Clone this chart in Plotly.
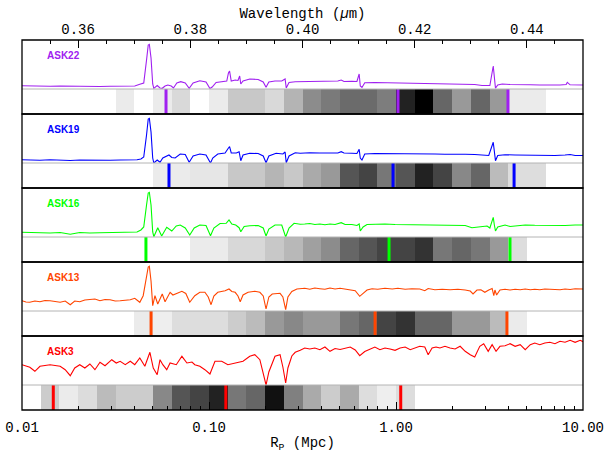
import numpy as np
import plotly.graph_objects as go

# ---------------- data ----------------
names = ["ASK22", "ASK19", "ASK16", "ASK13", "ASK3"]
colors = ["#a020f0", "#0000ff", "#00ff00", "#ff4500", "#ff0000"]

# rest-frame wavelength (Angstrom) and relative flux (arbitrary units) of each stacked spectrum
wave_ask22 = [3500, 3514, 3532, 3550, 3568, 3586, 3603, 3621, 3639, 3657, 3675, 3693, 3701, 3710, 3717, 3722, 3725,
              3727, 3730, 3733, 3735, 3741, 3746, 3750, 3755, 3760, 3766, 3770, 3776, 3783, 3791, 3798, 3805, 3817,
              3828, 3835, 3839, 3846, 3856, 3865, 3868, 3870, 3873, 3880, 3885, 3888, 3890, 3894, 3906, 3921, 3930,
              3935, 3940, 3951, 3963, 3969, 3971, 3976, 3987, 3996, 4013, 4031, 4049, 4063, 4069, 4074, 4088, 4097,
              4101, 4103, 4106, 4111, 4129, 4147, 4165, 4183, 4201, 4218, 4236, 4254, 4272, 4290, 4307, 4320, 4331,
              4334, 4340, 4342, 4344, 4348, 4356, 4370, 4388, 4406, 4423, 4441, 4459, 4470, 4472, 4477, 4486, 4500]
flux_ask22 = [0.33, 0.30, 0.32, 0.28, 0.30, 0.27, 0.30, 0.27, 0.25, 0.27, 0.26, 0.27, 0.30, 0.47, 0.60, 2.9, 4.4,
              4.47, 3.1, 0.5, 0.07, 0.35, 0.10, 0.07, 0.30, 0.40, 0.30, 0.10, 0.60, 0.73, 0.60, 0.07, 0.60, 0.83,
              0.70, 0.05, 0.20, 0.65, 0.73, 0.80, 1.6, 1.8, 0.80, 0.90, 0.85, 1.3, 0.50, 0.80, 1.0, 0.95, 0.70,
              0.17, 0.70, 0.80, 0.80, 1.0, 0.10, 0.65, 0.73, 0.73, 0.77, 0.80, 0.77, 0.80, 0.90, 0.75, 0.77, 0.75,
              1.5, 0.30, 0.15, 0.63, 0.65, 0.63, 0.60, 0.58, 0.60, 0.55, 0.57, 0.52, 0.50, 0.50, 0.45, 0.35, 0.30,
              0.35, 2.3, 0.9, 0.07, 0.40, 0.50, 0.45, 0.40, 0.42, 0.40, 0.38, 0.40, 0.45, 0.67, 0.42, 0.40, 0.40]

wave_ask19 = [3500, 3514, 3532, 3550, 3568, 3586, 3603, 3621, 3639, 3657, 3675, 3693, 3705, 3712, 3717, 3722, 3725,
              3727, 3730, 3733, 3735, 3741, 3746, 3751, 3757, 3762, 3767, 3773, 3782, 3791, 3798, 3805, 3817, 3828,
              3836, 3840, 3849, 3862, 3868, 3870, 3873, 3882, 3887, 3890, 3894, 3906, 3921, 3930, 3935, 3940, 3953,
              3965, 3969, 3971, 3976, 3987, 3996, 4013, 4031, 4049, 4063, 4069, 4074, 4088, 4097, 4101, 4103, 4106,
              4111, 4129, 4147, 4165, 4183, 4201, 4218, 4236, 4254, 4272, 4290, 4307, 4320, 4332, 4340, 4342, 4344,
              4348, 4361, 4379, 4397, 4414, 4432, 4450, 4468, 4477, 4486, 4500]
flux_ask19 = [0.33, 0.30, 0.28, 0.32, 0.27, 0.25, 0.30, 0.27, 0.30, 0.27, 0.30, 0.28, 0.33, 0.40, 0.60, 2.8, 4.4,
              4.47, 3.1, 0.5, 0.0, 0.30, 0.07, 0.50, 0.70, 0.80, 0.55, 0.50, 0.90, 0.85, 0.07, 0.70, 0.90, 0.80,
              0.0, 0.50, 0.90, 1.0, 1.5, 1.63, 1.0, 1.0, 1.13, 0.23, 0.80, 0.97, 0.95, 0.70, 0.03, 0.70, 0.97,
              0.90, 1.1, 0.03, 0.70, 1.03, 0.97, 1.03, 1.0, 1.03, 1.0, 1.13, 1.0, 0.97, 0.95, 1.37, 0.50, 0.30,
              0.90, 0.95, 0.95, 0.93, 0.90, 0.93, 0.90, 0.90, 0.87, 0.90, 0.87, 0.85, 0.80, 0.75, 2.07, 1.1, 0.23,
              0.75, 0.83, 0.80, 0.77, 0.80, 0.77, 0.75, 0.80, 0.85, 0.75, 0.75]

wave_ask16 = [3500, 3514, 3532, 3550, 3568, 3586, 3603, 3621, 3639, 3657, 3675, 3693, 3705, 3712, 3717, 3722, 3725,
              3727, 3730, 3733, 3735, 3742, 3749, 3758, 3767, 3775, 3782, 3791, 3799, 3807, 3817, 3828, 3836, 3842,
              3853, 3864, 3869, 3874, 3881, 3887, 3890, 3896, 3906, 3921, 3930, 3935, 3940, 3951, 3963, 3970, 3976,
              3985, 3996, 4004, 4013, 4022, 4031, 4040, 4049, 4058, 4069, 4076, 4088, 4097, 4101, 4103, 4108, 4115,
              4129, 4147, 4165, 4183, 4201, 4218, 4236, 4254, 4272, 4290, 4302, 4316, 4329, 4334, 4340, 4342, 4344,
              4348, 4361, 4370, 4384, 4397, 4414, 4432, 4450, 4468, 4486, 4500]
flux_ask16 = [0.47, 0.43, 0.45, 0.40, 0.45, 0.27, 0.45, 0.40, 0.43, 0.45, 0.40, 0.43, 0.50, 0.70, 1.0, 3.2, 4.4,
              4.47, 3.2, 0.5, 0.03, 0.93, 0.10, 0.97, 0.60, 1.1, 1.2, 0.90, 0.20, 0.90, 1.2, 1.15, 0.13, 0.90,
              1.35, 1.37, 1.7, 1.3, 1.2, 0.93, 0.53, 1.05, 1.13, 1.15, 0.90, 0.10, 0.80, 1.2, 1.2, 0.0, 0.90,
              1.37, 1.27, 1.3, 1.35, 1.25, 1.3, 1.23, 1.3, 1.25, 1.43, 1.25, 1.25, 1.15, 1.3, 0.60, 1.0, 1.25,
              1.27, 1.3, 1.25, 1.23, 1.27, 1.2, 1.23, 1.2, 1.17, 1.15, 0.93, 1.0, 1.1, 0.90, 1.97, 1.2, 0.60,
              1.0, 1.2, 1.05, 1.15, 1.2, 1.17, 1.15, 1.2, 1.15, 1.2, 1.2]

wave_ask13 = [3500, 3507, 3514, 3523, 3532, 3541, 3550, 3559, 3568, 3577, 3586, 3594, 3603, 3612, 3621, 3630, 3639,
              3648, 3657, 3666, 3675, 3684, 3693, 3701, 3707, 3710, 3716, 3722, 3725, 3727, 3730, 3733, 3737, 3742,
              3750, 3755, 3764, 3769, 3775, 3785, 3792, 3799, 3808, 3817, 3826, 3832, 3837, 3842, 3849, 3856, 3862,
              3869, 3874, 3880, 3885, 3889, 3894, 3903, 3915, 3924, 3930, 3935, 3940, 3946, 3960, 3965, 3970, 3974,
              3981, 3990, 3996, 4004, 4013, 4022, 4031, 4040, 4049, 4058, 4067, 4076, 4085, 4094, 4102, 4108, 4115,
              4124, 4134, 4147, 4160, 4170, 4183, 4195, 4209, 4218, 4224, 4236, 4249, 4263, 4277, 4290, 4299, 4304,
              4311, 4318, 4325, 4332, 4338, 4341, 4343, 4346, 4352, 4361, 4370, 4379, 4388, 4397, 4406, 4414, 4423,
              4432, 4441, 4450, 4459, 4468, 4477, 4486, 4495, 4500]
flux_ask13 = [1.03, 0.90, 0.87, 1.0, 0.93, 1.05, 1.03, 0.95, 0.87, 1.0, 0.63, 1.0, 0.93, 1.1, 1.13, 1.2, 1.03,
              1.15, 1.13, 1.0, 1.03, 1.1, 1.13, 1.27, 1.0, 0.87, 1.53, 3.2, 4.4, 4.47, 3.0, 0.53, 1.53, 0.70,
              1.7, 0.93, 1.87, 1.6, 1.75, 1.97, 1.75, 0.87, 1.53, 1.87, 1.87, 1.4, 0.63, 1.5, 1.87, 1.95, 2.03,
              2.2, 1.95, 1.87, 1.5, 0.93, 1.6, 1.87, 1.97, 1.87, 1.5, 0.20, 1.4, 1.7, 1.77, 1.4, 0.13, 1.4,
              1.95, 2.2, 2.2, 2.27, 2.17, 2.3, 2.23, 2.17, 2.3, 2.2, 2.27, 2.2, 2.13, 2.03, 1.47, 1.8, 2.1,
              2.23, 2.17, 2.27, 2.2, 2.27, 2.17, 2.23, 2.2, 2.03, 2.25, 2.13, 2.17, 2.13, 2.17, 2.1, 2.0, 1.7,
              2.1, 2.13, 1.87, 2.1, 2.25, 1.53, 2.1, 1.6, 2.1, 2.17, 2.1, 2.17, 2.13, 2.2, 2.13, 2.17, 2.13,
              2.2, 2.17, 2.2, 2.13, 2.2, 2.15, 2.23, 2.17, 2.2]

wave_ask3 = [3500, 3507, 3514, 3523, 3532, 3541, 3550, 3559, 3568, 3577, 3586, 3594, 3603, 3612, 3621, 3630, 3639,
             3648, 3660, 3668, 3675, 3684, 3693, 3701, 3710, 3719, 3728, 3734, 3741, 3746, 3751, 3758, 3764, 3775,
             3785, 3794, 3803, 3808, 3817, 3826, 3835, 3844, 3856, 3867, 3880, 3894, 3906, 3915, 3924, 3930, 3935,
             3940, 3951, 3960, 3965, 3970, 3974, 3981, 3987, 3996, 4004, 4013, 4022, 4031, 4040, 4049, 4058, 4067,
             4076, 4085, 4094, 4102, 4111, 4120, 4129, 4138, 4147, 4156, 4165, 4174, 4183, 4192, 4201, 4209, 4218,
             4224, 4231, 4238, 4245, 4254, 4263, 4272, 4281, 4290, 4299, 4307, 4316, 4323, 4331, 4338, 4345, 4352,
             4361, 4370, 4379, 4388, 4397, 4406, 4414, 4423, 4432, 4441, 4450, 4459, 4468, 4477, 4486, 4495, 4500]
flux_ask3 = [2.03, 1.9, 1.77, 1.37, 1.87, 1.95, 2.03, 1.95, 1.87, 1.53, 0.93, 1.7, 2.03, 1.7, 2.1, 1.53, 2.27,
             1.93, 2.53, 2.2, 2.37, 2.03, 2.37, 2.03, 2.7, 1.87, 3.27, 1.7, 1.03, 2.53, 2.03, 1.53, 2.2, 2.03,
             2.87, 2.2, 2.3, 2.03, 1.87, 1.53, 1.1, 2.37, 2.37, 2.03, 2.2, 2.37, 2.87, 3.03, 2.53, 1.3, 0.0,
             1.3, 2.87, 3.03, 1.8, 0.2, 1.7, 2.9, 3.27, 3.47, 3.7, 3.6, 3.7, 3.53, 3.8, 3.37, 3.65, 3.55,
             3.7, 3.8, 3.5, 2.93, 3.35, 3.55, 3.8, 3.53, 3.7, 3.6, 3.47, 3.7, 3.8, 3.53, 3.7, 3.87, 3.8,
             3.03, 3.7, 3.8, 3.7, 3.87, 3.7, 3.6, 3.87, 3.37, 3.03, 2.8, 3.87, 4.13, 3.37, 4.03, 3.37, 3.87,
             3.93, 4.13, 3.87, 4.03, 3.53, 4.03, 4.2, 4.03, 4.2, 4.27, 4.13, 4.37, 4.27, 4.47, 4.27, 4.47, 4.33]

waves = [wave_ask22, wave_ask19, wave_ask16, wave_ask13, wave_ask3]
fluxes = [flux_ask22, flux_ask19, flux_ask16, flux_ask13, flux_ask3]

# grey level (0 = black, 255 = white) in 0.1 dex bins of projected radius, 0.01-10 Mpc
grey_ask22 = [255, 255, 255, 255, 255, 235, 255, 235, 217, 255, 235, 200, 200, 217, 180,
              140, 122, 107, 107, 125, 34, 0, 102, 153, 102, 153, 235, 235, 255, 255]
grey_ask19 = [255, 255, 255, 255, 255, 255, 255, 235, 235, 230, 230, 200, 200, 181, 200,
              170, 153, 85, 68, 119, 85, 34, 68, 136, 102, 187, 221, 221, 255, 255]
grey_ask16 = [255, 255, 255, 255, 255, 255, 255, 255, 255, 235, 235, 216, 216, 200, 184,
              160, 140, 102, 85, 68, 68, 51, 119, 102, 119, 153, 221, 255, 255, 255]
grey_ask13 = [255, 255, 255, 255, 255, 255, 235, 238, 221, 221, 221, 204, 187, 153, 136,
              153, 153, 119, 102, 68, 51, 102, 102, 153, 153, 187, 235, 255, 255, 255]
grey_ask3 = [255, 204, 235, 220, 187, 204, 204, 136, 85, 68, 34, 119, 102, 17, 128,
             170, 204, 170, 221, 238, 221, 255, 255, 255, 255, 255, 255, 255, 255, 255]
greys = [grey_ask22, grey_ask19, grey_ask16, grey_ask13, grey_ask3]

# characteristic radii (Mpc) marked on each strip
marks_ask22 = [0.0589, 1.025, 3.97]
marks_ask19 = [0.0611, 0.964, 4.28]
marks_ask16 = [0.046, 0.918, 4.07]
marks_ask13 = [0.049, 0.773, 3.92]
marks_ask3 = [0.0147, 0.123, 1.06]
marks = [marks_ask22, marks_ask19, marks_ask16, marks_ask13, marks_ask3]

rp_edges = 10 ** np.linspace(-2, 1, 31)
rp_major = [0.01, 0.1, 1, 10]
rp_major_text = ["0.01", "0.10", "1.00", "10.00"]
rp_minor = [m * 10.0 ** e for e in (-2, -1, 0) for m in range(2, 10)]

# ---------------- layout geometry ----------------
W, H = 606, 453
ML, MR, MT, MB = 22, 23, 40, 43
plot_h = H - MT - MB
n = len(names)
panel = 1.0 / n
strip_frac = 25.0 / plot_h

FONT = "Liberation Mono"

fig = go.Figure()
layout_axes = {}
shapes = []
annotations = []

for i, name in enumerate(names):
    p = n - 1 - i                       # panel index counted from the bottom
    ys = 2 * p + 1                      # strip axis number
    yf = 2 * p + 2                      # spectrum axis number
    y0 = p * panel
    ysep = y0 + strip_frac
    y1 = (p + 1) * panel
    c = colors[i]
    ys_name = "y" if ys == 1 else f"y{ys}"

    fig.add_trace(go.Heatmap(
        x=rp_edges, y=[0, 1], z=[greys[i]],
        colorscale=[[0, "rgb(0,0,0)"], [1, "rgb(255,255,255)"]],
        zmin=0, zmax=255, showscale=False, hoverinfo="skip",
        xaxis="x", yaxis=ys_name))

    mx, my = [], []
    for r in marks[i]:
        mx += [r, r, None]
        my += [0, 1, None]
    fig.add_trace(go.Scatter(
        x=mx, y=my, mode="lines", line=dict(color=c, width=3),
        hoverinfo="skip", showlegend=False,
        xaxis="x", yaxis=ys_name))

    fig.add_trace(go.Scatter(
        x=np.array(waves[i]) / 1e4, y=fluxes[i], mode="lines",
        line=dict(color=c, width=1.1), hoverinfo="skip", showlegend=False,
        xaxis="x2", yaxis=f"y{yf}"))

    hidden = dict(showticklabels=False, showgrid=False, zeroline=False,
                  ticks="", showline=False, fixedrange=True, automargin=False)
    layout_axes["yaxis" if ys == 1 else f"yaxis{ys}"] = dict(domain=[y0, ysep], range=[0, 1], **hidden)
    layout_axes[f"yaxis{yf}"] = dict(domain=[ysep, y1], range=[0, 4.9], **hidden)

    shapes.append(dict(type="line", xref="paper", yref="paper", x0=0, x1=1, y0=ysep, y1=ysep,
                       line=dict(color="#b4b4b4", width=1)))
    shapes.append(dict(type="rect", xref="paper", yref="paper", x0=0, x1=1, y0=y0, y1=y1,
                       line=dict(color="black", width=1.3)))

    annotations.append(dict(text=f"<b>{name}</b>", xref="paper", yref="paper",
                            x=23.0 / (W - ML - MR), y=y1 - 15.5 / plot_h,
                            xanchor="left", yanchor="middle", showarrow=False,
                            font=dict(family="Liberation Sans", size=10, color=c)))

fig.update_layout(
    width=W, height=H,
    margin=dict(l=ML, r=MR, t=MT, b=MB, autoexpand=False),
    paper_bgcolor="white", plot_bgcolor="white",
    showlegend=False, hovermode=False,
    xaxis=dict(type="log", range=[-2, 1], anchor="y", domain=[0, 1], automargin=False,
               tickmode="array", tickvals=rp_major, ticktext=rp_major_text,
               ticks="inside", ticklen=8, tickcolor="black", tickwidth=1,
               ticklabelstandoff=7,
               minor=dict(tickmode="array", tickvals=rp_minor, ticks="inside",
                          ticklen=4, tickcolor="black", showgrid=False),
               showgrid=False, zeroline=False, showline=False,
               tickfont=dict(family=FONT, size=14, color="black"),
               title=dict(text="R<sub>P</sub> (Mpc)", standoff=5,
                          font=dict(family=FONT, size=14, color="black"))),
    xaxis2=dict(range=[0.35, 0.45], anchor=f"y{2 * n}", side="top", domain=[0, 1], automargin=False,
                dtick=0.02, tick0=0.36, tickformat=".2f",
                ticks="inside", ticklen=8, tickcolor="black", tickwidth=1,
                ticklabelstandoff=2,
                minor=dict(dtick=0.005, ticks="inside", ticklen=4, tickcolor="black", showgrid=False),
                showgrid=False, zeroline=False, showline=False,
                tickfont=dict(family=FONT, size=14, color="black"),
                title=dict(text="Wavelength (<i>µ</i>m)", standoff=0,
                           font=dict(family=FONT, size=14, color="black"))),
    shapes=shapes,
    annotations=annotations,
    **layout_axes,
)

fig.write_html("out.html")
